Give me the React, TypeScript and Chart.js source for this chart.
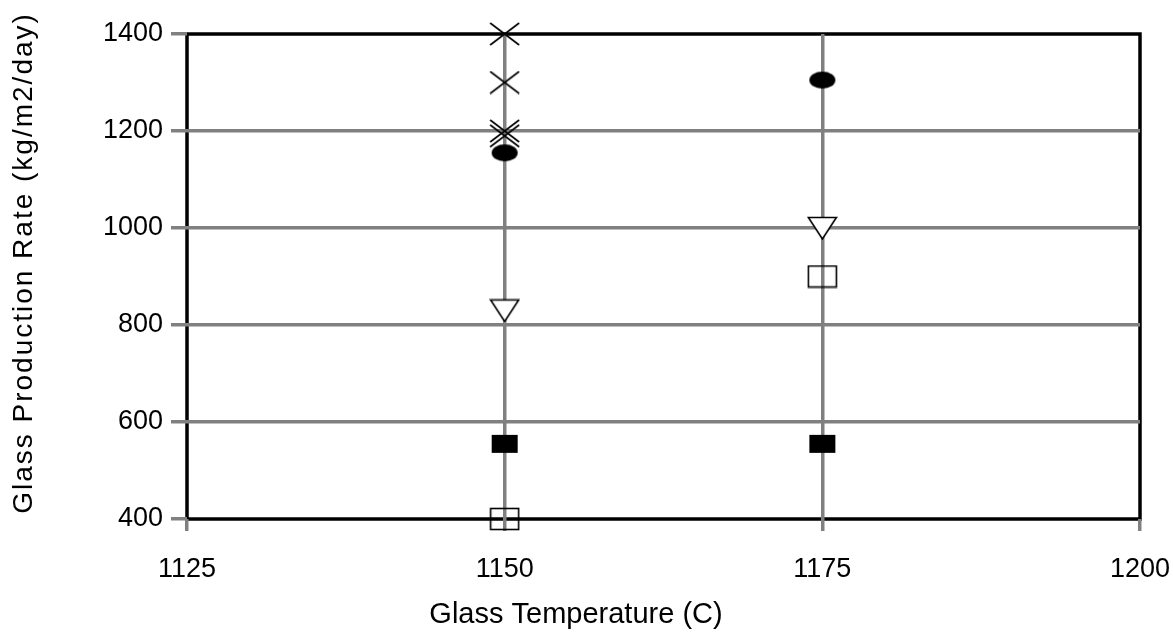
import React, { useEffect, useRef } from "react";
import { Chart, registerables } from "chart.js";

Chart.register(...registerables);

const xTitle = "Glass Temperature (C)";
const yTitle = "Glass Production Rate (kg/m2/day)";
const xTicks = [1125, 1150, 1175, 1200];
const yTicks = [400, 600, 800, 1000, 1200, 1400];

const crossTemp = [1150, 1150, 1150, 1150];
const crossRate = [1400, 1300, 1200, 1190];
const circleTemp = [1150, 1175];
const circleRate = [1155, 1305];
const triangleTemp = [1150, 1175];
const triangleRate = [830, 1000];
const solidSquareTemp = [1150, 1175];
const solidSquareRate = [555, 555];
const openSquareTemp = [1150, 1175];
const openSquareRate = [400, 900];

const FONT = '"Liberation Sans", Arial, sans-serif';
const GRID = "#808080";

function makeMarker(kind: string): HTMLCanvasElement {
  let w = 29;
  let h = 22;
  if (kind === "circle") { w = 26; h = 17; }
  if (kind === "solidSquare") { w = 26; h = 18; }
  const c = document.createElement("canvas");
  c.width = w + 2;
  c.height = h + 2;
  const g = c.getContext("2d")!;
  g.translate(1, 1);
  g.strokeStyle = "#000";
  g.fillStyle = "#000";
  if (kind === "cross") {
    g.lineWidth = 1.6;
    g.beginPath();
    g.moveTo(0, 0); g.lineTo(w, h);
    g.moveTo(w, 0); g.lineTo(0, h);
    g.stroke();
  } else if (kind === "circle") {
    g.beginPath();
    g.ellipse(w / 2, h / 2, w / 2, h / 2, 0, 0, Math.PI * 2);
    g.fill();
  } else if (kind === "triangle") {
    g.lineWidth = 1.6;
    g.beginPath();
    g.moveTo(0.5, 0.5); g.lineTo(w - 0.5, 0.5); g.lineTo(w / 2, h); g.closePath();
    g.fillStyle = "#fff";
    g.fill();
    g.stroke();
  } else if (kind === "solidSquare") {
    g.fillRect(0, 0, w, h);
  } else if (kind === "openSquare") {
    g.lineWidth = 1.6;
    g.strokeRect(0.5, 0.5, w - 1, h - 1);
  }
  return c;
}

function pts(xs: number[], ys: number[]) {
  return xs.map((x, i) => ({ x, y: ys[i] }));
}

const frame = {
  id: "frame",
  beforeDraw(chart: any) {
    const { ctx, chartArea: a } = chart;
    ctx.save();
    ctx.strokeStyle = "#000";
    ctx.lineWidth = 3.5;
    ctx.strokeRect(a.left, a.top, a.right - a.left, a.bottom - a.top);
    ctx.restore();
  },
  afterDraw(chart: any) {
    const { ctx } = chart;
    ctx.save();
    ctx.fillStyle = "#000";
    ctx.font = `29px ${FONT}`;
    ctx.textAlign = "center";
    ctx.textBaseline = "middle";
    ctx.fillText(xTitle, 576, 615);
    ctx.translate(24, 263);
    ctx.rotate(-Math.PI / 2);
    ctx.font = `28px ${FONT}`;
    (ctx as any).letterSpacing = "2px";
    ctx.fillText(yTitle, 0, 0);
    ctx.restore();
  },
};

export default function App() {
  const ref = useRef<HTMLCanvasElement | null>(null);
  useEffect(() => {
    if (!ref.current) return;
    const chart = new Chart(ref.current, {
      type: "scatter",
      data: {
        datasets: [
          { label: "Cross", data: pts(crossTemp, crossRate), pointStyle: makeMarker("cross") as any, clip: false as any },
          { label: "Circle", data: pts(circleTemp, circleRate), pointStyle: makeMarker("circle") as any, clip: false as any },
          { label: "Triangle", data: pts(triangleTemp, triangleRate), pointStyle: makeMarker("triangle") as any, clip: false as any },
          { label: "Solid square", data: pts(solidSquareTemp, solidSquareRate), pointStyle: makeMarker("solidSquare") as any, clip: false as any },
          { label: "Open square", data: pts(openSquareTemp, openSquareRate), pointStyle: makeMarker("openSquare") as any, clip: false as any },
        ],
      },
      options: {
        animation: false,
        responsive: false,
        events: [],
        layout: { padding: { top: 34, right: 33, left: 0, bottom: 0 } },
        plugins: { legend: { display: false }, tooltip: { enabled: false } },
        scales: {
          x: {
            type: "linear",
            min: 1125,
            max: 1200,
            afterBuildTicks: (s: any) => { s.ticks = xTicks.map((v) => ({ value: v })); },
            afterFit: (s: any) => { s.height = 113; s.paddingLeft = 0; s.paddingRight = 0; },
            border: { display: false },
            grid: {
              color: (c: any) => (c.tick && (c.tick.value === 1125 || c.tick.value === 1200) ? "rgba(0,0,0,0)" : GRID),
              lineWidth: 3.5,
              tickColor: GRID,
              tickWidth: 3.5,
              tickLength: 12,
            },
            ticks: { color: "#000", font: { family: FONT, size: 27 }, padding: 22, maxRotation: 0, callback: (v: any) => String(v) },
          },
          y: {
            type: "linear",
            min: 400,
            max: 1400,
            afterBuildTicks: (s: any) => { s.ticks = yTicks.map((v) => ({ value: v })); },
            afterFit: (s: any) => { s.width = 187; s.paddingTop = 0; s.paddingBottom = 0; },
            border: { display: false },
            grid: {
              color: (c: any) => (c.tick && (c.tick.value === 400 || c.tick.value === 1400) ? "rgba(0,0,0,0)" : GRID),
              lineWidth: 3.5,
              tickColor: GRID,
              tickWidth: 3.5,
              tickLength: 16,
            },
            ticks: { color: "#000", font: { family: FONT, size: 27 }, padding: 8, callback: (v: any) => String(v) },
          },
        },
      },
      plugins: [frame],
    });
    return () => chart.destroy();
  }, []);
  return (
    <div style={{ position: "absolute", left: 0, top: 0, width: 1173, height: 632, background: "#fff" }}>
      <canvas ref={ref} width={1173} height={632} style={{ display: "block" }} />
    </div>
  );
}
